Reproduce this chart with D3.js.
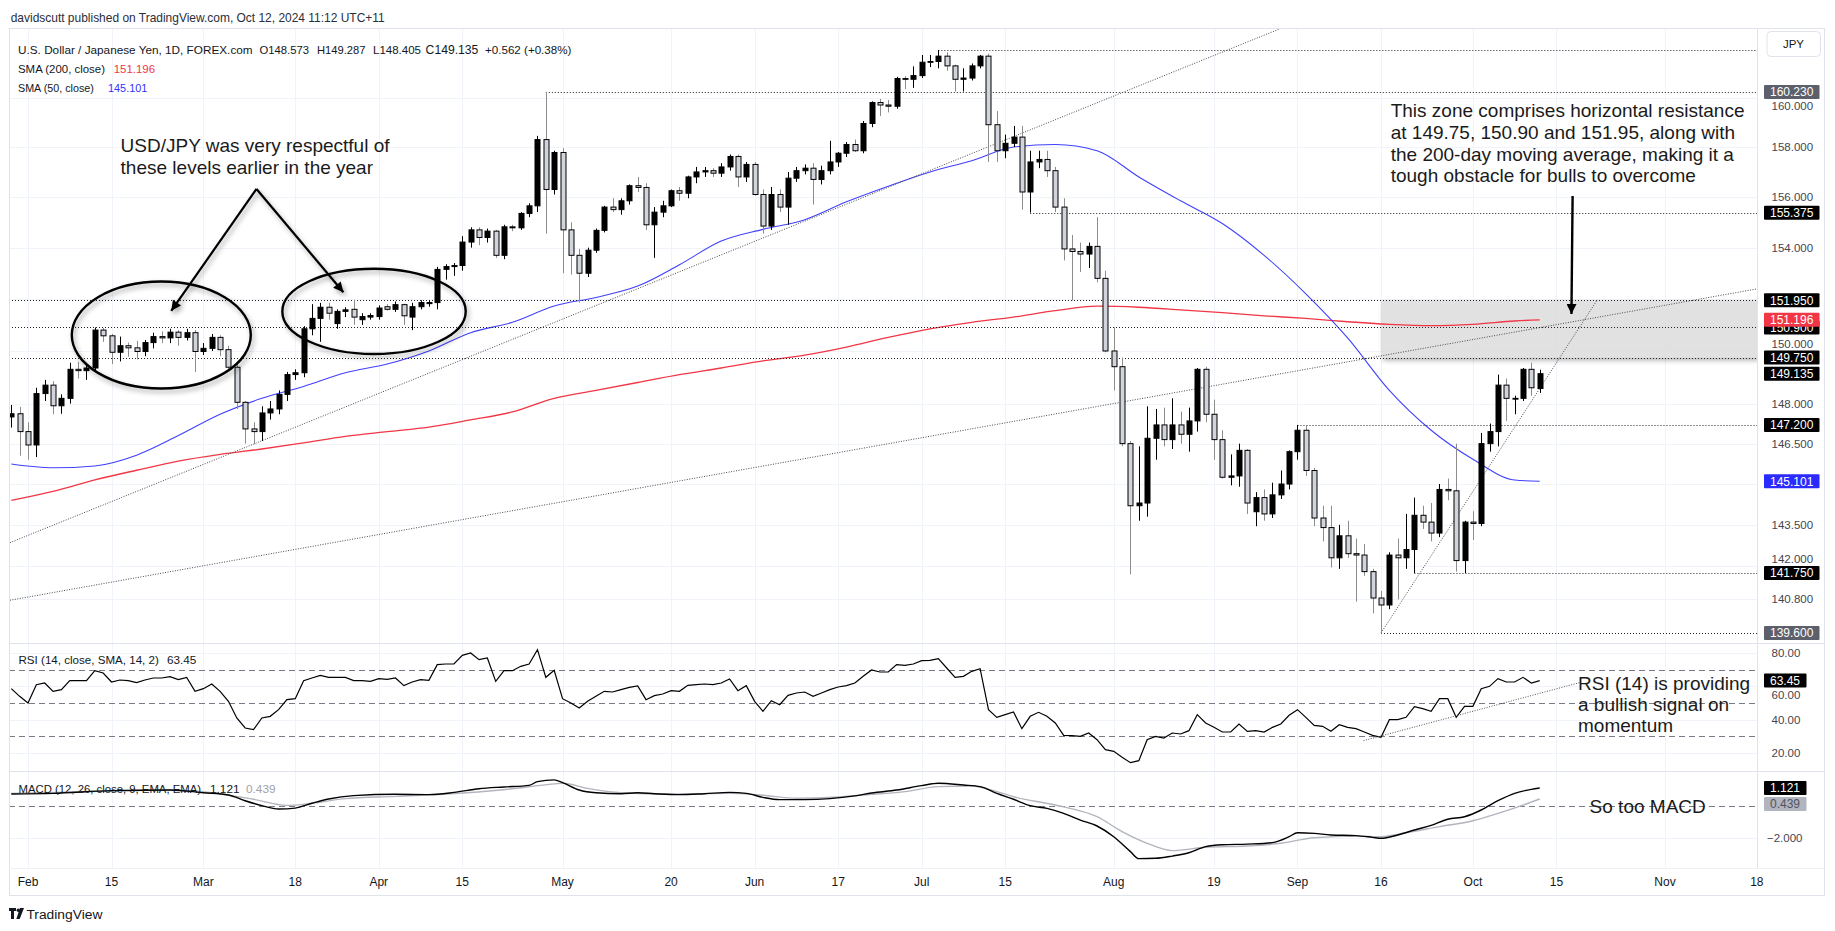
<!DOCTYPE html>
<html>
<head>
<meta charset="utf-8">
<script src="https://cdn.jsdelivr.net/npm/d3@7"></script>
<style>
  body { margin: 0; background: #fff; }
  svg { display: block; }
  text { font-family: "Liberation Sans", Arial, sans-serif; }
</style>
</head>
<body>
<svg id="chart" width="1835" height="931"></svg>
<script>
// ---- data ----
// daily candles [open, high, low, close], Jan 30 .. Oct 11 2024 (weekdays)
var ohlc = [
  [147.50,147.95,147.10,147.62],[147.62,147.88,146.05,146.95],
  // Feb
  [146.95,147.30,145.90,146.45],[146.45,148.60,146.00,148.38],[148.38,148.90,148.10,148.70],[148.70,148.85,147.60,147.92],
  [147.92,148.35,147.62,148.20],[148.20,149.55,148.00,149.30],[149.30,149.58,148.95,149.25],[149.25,149.55,148.90,149.35],
  [149.35,150.90,149.20,150.80],[150.80,150.88,150.35,150.58],[150.58,150.65,149.50,149.95],[149.95,150.55,149.60,150.20],
  [150.20,150.32,149.78,150.12],[150.12,150.38,149.68,149.98],[149.98,150.42,149.80,150.32],[150.32,150.70,150.10,150.55],
  [150.55,150.75,150.30,150.50],[150.50,150.85,150.30,150.72],[150.72,150.80,150.20,150.52],[150.52,150.85,150.40,150.70],
  [150.70,150.80,149.20,149.98],
  // Mar
  [149.98,150.30,149.85,150.10],[150.10,150.65,150.00,150.52],[150.52,150.60,149.80,150.05],[150.05,150.20,149.25,149.38],
  [149.38,149.50,147.80,148.05],[148.05,148.10,146.50,147.05],[147.05,147.30,146.48,146.95],[146.95,147.90,146.60,147.65],
  [147.65,148.10,147.40,147.80],[147.80,148.50,147.60,148.35],[148.35,149.20,148.10,149.10],[149.10,149.30,148.90,149.17],
  [149.17,150.95,149.00,150.85],[150.85,151.80,150.60,151.25],[151.25,151.85,150.35,151.68],[151.68,151.85,151.20,151.45],
  [151.05,151.60,150.85,151.52],[151.52,151.68,151.30,151.58],[151.60,151.97,151.00,151.30],[151.20,151.45,151.00,151.32],
  [151.30,151.45,151.20,151.36],
  // Apr
  [151.32,151.75,151.20,151.65],[151.70,151.80,151.55,151.60],[151.60,151.90,151.50,151.78],[151.78,151.82,151.00,151.35],
  [151.30,151.85,150.80,151.70],[151.70,151.95,151.60,151.86],[151.82,151.95,151.70,151.86],[151.86,153.25,151.60,153.15],
  [153.15,153.35,152.75,153.26],[153.26,153.40,152.90,153.30],[153.30,154.45,153.10,154.22],[154.22,154.80,154.00,154.70],
  [154.70,154.80,154.10,154.40],[154.40,154.75,154.20,154.65],[154.65,154.70,153.60,153.70],[153.70,154.90,153.55,154.82],
  [154.82,154.90,154.65,154.78],[154.78,155.40,154.70,155.35],[155.35,155.75,155.20,155.65],[155.65,158.45,155.40,158.30],
  [158.30,160.23,154.55,156.30],[156.30,157.85,156.10,157.78],
  // May
  [157.78,157.95,153.00,154.70],[154.70,155.00,152.95,153.70],[153.70,153.95,151.86,153.00],[153.00,154.00,152.85,153.90],
  [153.90,154.75,153.80,154.68],[154.68,155.65,154.60,155.60],[155.60,155.95,155.40,155.50],[155.50,155.95,155.30,155.85],
  [155.85,156.50,155.70,156.45],[156.45,156.80,156.20,156.38],[156.38,156.55,154.70,154.90],[154.90,155.60,153.60,155.40],
  [155.40,155.85,155.20,155.65],[155.65,156.30,155.60,156.25],[156.25,156.40,155.85,156.15],[156.15,156.85,155.95,156.80],
  [156.80,157.20,156.55,157.00],[157.00,157.20,156.80,157.05],[157.05,157.15,156.80,156.95],[156.95,157.35,156.80,157.20],
  [157.20,157.70,157.05,157.62],[157.62,157.70,156.40,156.80],[156.80,157.40,156.60,157.30],
  // Jun
  [157.30,157.40,156.05,156.10],[156.10,156.30,154.55,154.85],[154.85,156.40,154.70,156.10],[156.10,156.30,155.40,155.60],
  [155.60,157.00,154.90,156.75],[156.75,157.20,156.60,157.05],[157.05,157.30,156.90,157.15],[157.15,157.35,155.70,156.70],
  [156.70,157.25,156.50,157.05],[157.05,158.25,156.90,157.40],[157.40,157.80,157.20,157.75],[157.75,158.20,157.60,158.10],
  [158.10,158.30,157.80,157.85],[157.85,159.05,157.75,158.95],[158.95,159.85,158.80,159.80],[159.80,159.95,159.25,159.70],
  [159.70,159.90,159.40,159.65],[159.65,160.85,159.55,160.78],[160.78,160.88,160.35,160.75],[160.75,161.28,160.40,160.90],
  // Jul
  [160.90,161.75,160.80,161.45],[161.45,161.75,161.25,161.48],[161.48,161.95,161.20,161.70],[161.70,161.85,161.10,161.30],
  [161.30,161.35,160.25,160.75],[160.75,161.20,160.25,160.80],[160.80,161.40,160.70,161.30],[161.30,161.75,161.20,161.70],
  [161.70,161.80,157.40,158.90],[158.90,159.45,157.40,157.85],[157.85,158.50,157.55,158.15],[158.15,158.85,158.00,158.40],
  [158.40,158.85,155.50,156.20],[156.20,157.85,155.38,157.40],[157.40,157.85,157.15,157.50],[157.50,157.85,156.80,157.05],
  [157.05,157.20,155.40,155.60],[155.60,155.95,153.50,153.95],[153.95,154.50,151.94,153.85],[153.85,154.20,153.05,153.75],
  [153.75,154.20,153.20,154.05],[154.05,155.20,152.65,152.80],[152.80,153.10,149.95,150.00],
  // Aug
  [150.00,150.90,148.50,149.40],[149.40,149.75,146.40,146.50],[146.50,146.60,141.70,144.20],[144.20,146.40,143.65,144.30],
  [144.30,147.90,143.80,146.70],[146.70,147.80,145.90,147.20],[147.20,147.85,146.40,146.65],[146.65,148.20,146.30,147.20],
  [147.20,147.70,146.50,146.85],[146.85,147.85,146.20,147.35],[147.35,149.35,146.95,149.30],[149.30,149.40,147.30,147.60],
  [147.60,148.15,145.90,146.65],[146.65,147.00,145.20,145.25],[145.25,146.10,144.95,145.30],[145.30,146.50,144.90,146.25],
  [146.25,146.30,143.90,144.30],[143.98,144.70,143.45,144.50],[144.50,144.80,143.65,143.90],[143.90,145.05,143.75,144.60],
  [144.60,145.50,144.45,145.00],[145.00,146.25,144.80,146.20],
  // Sep
  [146.20,147.20,145.90,147.00],[147.00,147.20,145.30,145.50],[145.50,145.60,143.45,143.75],[143.75,144.20,142.90,143.40],
  [143.40,144.20,141.95,142.30],[142.30,143.50,141.90,143.10],[143.10,143.65,142.30,142.45],[142.45,143.00,140.72,142.40],
  [142.40,142.80,141.65,141.80],[141.80,141.90,140.30,140.85],[140.85,141.10,139.58,140.60],[140.60,142.50,140.45,142.40],
  [142.40,143.00,140.80,142.30],[142.30,143.90,141.90,142.60],[142.60,144.50,141.75,143.85],[143.85,144.20,143.35,143.60],
  [143.60,144.30,142.90,143.20],[143.20,145.00,143.05,144.80],[144.80,145.20,144.40,144.75],[144.75,146.50,141.80,142.20],
  [142.20,143.65,141.75,143.60],
  // Oct
  [143.60,144.00,142.95,143.55],[143.55,146.90,143.45,146.50],[146.50,147.25,146.20,146.95],[146.95,149.10,146.40,148.70],
  [148.70,148.95,147.35,148.20],[148.20,148.30,147.60,148.20],[148.20,149.35,148.10,149.30],[149.30,149.55,148.30,148.60],
  [148.573,149.287,148.405,149.135]
];

// moving averages, one reading every 5 sessions from Jan 30 (plus the last session)
var smaIndex = [-2,3,8,13,18,23,28,33,38,43,48,53,58,63,68,73,78,83,88,93,98,103,108,113,118,123,128,133,138,143,148,153,158,163,168,173,178,181];
var sma50 = [145.74,145.60,145.67,146.07,146.80,147.60,148.20,148.65,149.17,149.50,150.00,150.70,151.10,151.73,152.06,152.50,153.33,154.26,154.72,155.10,155.81,156.43,157.00,157.45,158.00,158.10,157.85,156.80,155.85,154.95,153.70,152.20,150.50,148.50,147.00,145.92,145.15,145.101];
var sma200 = [144.40,144.73,145.15,145.51,145.85,146.10,146.30,146.53,146.77,146.95,147.12,147.39,147.69,148.20,148.50,148.80,149.10,149.35,149.62,149.84,150.15,150.52,150.85,151.10,151.30,151.55,151.72,151.68,151.58,151.47,151.35,151.25,151.12,151.02,150.97,151.02,151.15,151.196];

// RSI (14), one value per session, Jan 30 .. Oct 11
var rsi = [58.6,54,50,61,62,57,58,63.4,63.4,63.4,69.4,68,62.6,63.8,63.4,62.2,63.8,65,65,65.8,
  64,65.4,57,58.6,61.4,57,51,41,35,34,41,42,46,52,52.6,63.4,65,66.6,65.4,65.4,
  65.4,63.4,63.4,63,64.6,64.2,65,60.4,62.6,64,63.6,73,73.4,73.4,78.6,80,76,77,63,69.4,
  69.4,72,73.4,82,65.4,69.6,52.6,50,47,51,54,57,56.6,58,59.4,60.2,52,54.4,55.4,57.4,
  57,60.6,61,61.4,61,62,64.4,57.4,60.4,51,45,51.4,49,54.6,56,56.6,54,56,58,59.6,
  60.4,62,66,69.8,68.6,68.6,73,72.6,73.4,75.4,75.6,76.6,71,65.4,66,69,70.6,46,41.4,43,
  44.6,34.6,42,44.4,42,38,30.6,30.4,30,32,28,22,21,17.4,14.2,15.4,28,30,29,32,
  31.4,33.4,43,38,35.4,32.6,32.6,37.4,33,33.4,32.6,35.4,37.4,42.6,46,41.4,36.6,36,33,37,
  35.4,34.6,32.6,30.6,29.4,40,40,41.4,47.8,46.6,45,52.6,52.6,41.4,48,48,58.6,60,64.6,62.6,
  62.6,65.4,62,63.45];

// MACD (12, 26, 9): [session index from Feb 1, value]
var macd = [[-2,0.75],[3,0.79],[10,0.96],[17,1.0],[21,0.83],[24,0.69],[26,0.33],[28,0.02],[30,-0.19],[32,-0.13],
  [34,0.17],[36,0.44],[39,0.65],[44,0.73],[48,0.71],[51,0.85],[54,1.08],[57,1.19],[60,1.29],[61,1.52],[63,1.63],
  [64,1.46],[66,1.0],[68,0.83],[71,0.77],[73,0.83],[75,0.77],[78,0.71],[81,0.77],[84,0.85],[86,0.79],[88,0.54],
  [90,0.4],[93,0.4],[96,0.46],[99,0.63],[101,0.81],[104,1.0],[107,1.27],[109,1.42],[112,1.31],[114,1.21],[116,0.79],
  [118,0.42],[120,0.02],[122,-0.15],[124,-0.46],[126,-0.88],[128,-1.25],[130,-1.92],[132,-2.85],[133,-3.29],
  [135,-3.27],[137,-3.13],[139,-2.92],[141,-2.54],[143,-2.42],[146,-2.38],[149,-2.29],[151,-1.92],[152,-1.67],
  [154,-1.71],[156,-1.81],[159,-1.85],[161,-1.96],[162,-2.02],[164,-1.81],[166,-1.5],[168,-1.21],[170,-0.83],
  [172,-0.67],[174,-0.25],[176,0.33],[178,0.79],[180,1.04],[181,1.121]];
var signal = [[-2,0.79],[7,0.9],[17,1.0],[22,0.83],[27,0.42],[31,0.04],[34,0.17],[38,0.46],[44,0.6],[50,0.75],
  [57,1.02],[63,1.38],[64,1.42],[67,1.1],[71,0.83],[77,0.75],[84,0.79],[88,0.67],[92,0.48],[97,0.56],[101,0.73],
  [105,0.9],[109,1.21],[113,1.25],[116,0.9],[118,0.58],[123,0.06],[128,-0.67],[131,-1.6],[134,-2.33],[137,-2.79],
  [141,-2.58],[146,-2.5],[150,-2.33],[154,-1.98],[159,-1.88],[162,-1.92],[165,-1.67],[169,-1.29],[173,-0.92],
  [176,-0.46],[179,0.06],[181,0.439]];

// axis labels
var xTicks = [['2024-02-01','Feb'],['2024-02-15','15'],['2024-03-01','Mar'],['2024-03-18','18'],['2024-04-01','Apr'],
  ['2024-04-15','15'],['2024-05-01','May'],['2024-05-20','20'],['2024-06-03','Jun'],['2024-06-17','17'],
  ['2024-07-01','Jul'],['2024-07-15','15'],['2024-08-01','Aug'],['2024-08-19','19'],['2024-09-02','Sep'],
  ['2024-09-16','16'],['2024-10-01','Oct'],['2024-10-15','15'],['2024-11-01','Nov'],['2024-11-18','18']];
var priceTicks = [160, 158, 156, 154, 152, 150, 148, 146.5, 145, 143.5, 142, 140.8];
var rsiTicks = [80, 60, 40, 20];
var macdTicks = [-2];

// horizontal levels drawn on the chart (price, first session)
var levels = [[161.95,'2024-07-03'],[160.23,'2024-04-29'],[155.375,'2024-07-18'],[151.95,null],[150.90,null],
  [149.75,null],[147.20,'2024-09-02'],[141.75,'2024-09-20'],[139.60,'2024-09-16']];
// dotted trend lines [[session, price], [session, price]]
var trends = [[[-2.16,142.85],[157.5,163.9]], [[-2.16,140.77],[207,152.39]], [[162,139.6],[187.9,151.97]]];
var rsiTrend = [[159.9,27.4],[185.75,62.2]];

// price scale tags
var priceTags = [[160.23,'#5d606b'],[155.375,'#000'],[151.95,'#000'],[150.90,'#000'],[151.196,'#f23645'],
  [149.75,'#000'],[149.135,'#000'],[147.20,'#000'],[145.101,'#2b2bff'],[141.75,'#000'],[139.60,'#5d606b']];

var noteLeft = ['USD/JPY was very respectful of', 'these levels earlier in the year'];
var noteZone = ['This zone comprises horizontal resistance', 'at 149.75, 150.90 and 151.95, along with',
  'the 200-day moving average, making it a', 'tough obstacle for bulls to overcome'];
var noteRsi = ['RSI (14) is providing', 'a bullish signal on', 'momentum'];

// ---- calendar: weekdays, Jan 30 to Nov 18 ----
var days = [];
for (var d = new Date(Date.UTC(2024, 0, 30)); d <= new Date(Date.UTC(2024, 10, 18)); d.setUTCDate(d.getUTCDate() + 1)) {
  var wd = d.getUTCDay();
  if (wd > 0 && wd < 6) days.push(d.toISOString().slice(0, 10));
}
function idx(s) { return days.indexOf(s) - 2; }   // Feb 1 = 0

// ---- layout ----
var L = 9, R = 1757, RB = 1824;
var mainTop = 28, mainBot = 643, rsiBot = 771, macdBot = 868, axisBot = 895;

var x = d3.scaleLinear().domain([0, 181]).range([28, 1539.7]);
var y = d3.scaleLog().domain([160.23, 139.6]).range([92, 633]);
var yR = d3.scaleLinear().domain([80, 20]).range([653, 753]);
var yM = d3.scaleLinear().domain([0, -2]).range([806, 838]);

var svg = d3.select('#chart');
var defs = svg.append('defs');
defs.append('clipPath').attr('id', 'cMain').append('rect')
  .attr('x', L).attr('y', mainTop).attr('width', R - L).attr('height', mainBot - mainTop);
defs.append('clipPath').attr('id', 'cRsi').append('rect')
  .attr('x', L).attr('y', mainBot).attr('width', R - L).attr('height', rsiBot - mainBot);
defs.append('clipPath').attr('id', 'cMacd').append('rect')
  .attr('x', L).attr('y', rsiBot).attr('width', R - L).attr('height', macdBot - rsiBot);
defs.append('filter').attr('id', 'sh').attr('x', '-20%').attr('y', '-20%').attr('width', '140%').attr('height', '140%')
  .append('feDropShadow').attr('dx', 2).attr('dy', 3).attr('stdDeviation', 2.5)
  .attr('flood-color', '#000').attr('flood-opacity', 0.35);
defs.append('marker').attr('id', 'ah').attr('viewBox', '0 0 10 10')
  .attr('refX', 10).attr('refY', 5).attr('markerWidth', 13).attr('markerHeight', 10)
  .attr('markerUnits', 'userSpaceOnUse').attr('orient', 'auto')
  .append('path').attr('d', 'M0,0L10,5L0,10z').attr('fill', '#000');

// text fitted to a measured width: shrink the font if the natural width is too wide
function fitText(xp, yp, s, len, size, col) {
  var t = svg.append('text').attr('x', xp).attr('y', yp).attr('font-size', size).attr('fill', col || '#131722').text(s);
  var w = t.node().getComputedTextLength();
  if (w > len) t.attr('font-size', (size * len / w).toFixed(2));
  t.attr('textLength', len).attr('lengthAdjust', 'spacingAndGlyphs');
  return t;
}

// header
fitText(10.7, 21.5, 'davidscutt published on TradingView.com, Oct 12, 2024 11:12 UTC+11', 374, 13, '#2a2e39');

// grid
var grid = svg.append('g').attr('stroke', '#f0f3fa').attr('stroke-width', 1);
xTicks.forEach(function(t) {
  var gx = Math.round(x(idx(t[0]))) + 0.5;
  grid.append('line').attr('x1', gx).attr('x2', gx).attr('y1', mainTop).attr('y2', macdBot);
});
priceTicks.forEach(function(p) {
  grid.append('line').attr('x1', L).attr('x2', R).attr('y1', Math.round(y(p)) + 0.5).attr('y2', Math.round(y(p)) + 0.5);
});
rsiTicks.forEach(function(v) {
  grid.append('line').attr('x1', L).attr('x2', R).attr('y1', Math.round(yR(v)) + 0.5).attr('y2', Math.round(yR(v)) + 0.5);
});
macdTicks.forEach(function(v) {
  grid.append('line').attr('x1', L).attr('x2', R).attr('y1', Math.round(yM(v)) + 0.5).attr('y2', Math.round(yM(v)) + 0.5);
});

// ---- main pane ----
var main = svg.append('g').attr('clip-path', 'url(#cMain)');

// resistance zone
main.append('rect')
  .attr('x', x(idx('2024-09-16'))).attr('width', R - x(idx('2024-09-16')))
  .attr('y', y(151.95)).attr('height', y(149.75) - y(151.95))
  .attr('fill', '#dcdcdc').attr('opacity', 0.85).attr('filter', 'url(#sh)');

// moving averages
var smaLine = function(vals) {
  return d3.line().curve(d3.curveMonotoneX)
    .x(function(v, k) { return x(smaIndex[k]); })
    .y(function(v) { return y(v); })(vals);
};
main.append('path').attr('d', smaLine(sma200)).attr('fill', 'none').attr('stroke', '#f23645').attr('stroke-width', 1.3);
main.append('path').attr('d', smaLine(sma50)).attr('fill', 'none').attr('stroke', '#4040ff').attr('stroke-width', 1.1);

// horizontal levels
levels.forEach(function(lv) {
  var y0 = Math.round(y(lv[0])) + 0.5;
  main.append('line')
    .attr('x1', lv[1] ? x(idx(lv[1])) : L).attr('x2', R)
    .attr('y1', y0).attr('y2', y0)
    .attr('stroke', '#222').attr('stroke-width', 1).attr('stroke-dasharray', '1,2');
});

// trend lines
trends.forEach(function(t) {
  main.append('line')
    .attr('x1', x(t[0][0])).attr('y1', y(t[0][1]))
    .attr('x2', x(t[1][0])).attr('y2', y(t[1][1]))
    .attr('stroke', '#4a4a4a').attr('stroke-width', 1).attr('stroke-dasharray', '1,1.5');
});

// candles
var bw = 6;
var cg = main.append('g');
ohlc.forEach(function(c, k) {
  var i = k - 2, cx = Math.round(x(i)) + 0.5;
  var up = c[3] >= c[0];
  cg.append('line').attr('x1', cx).attr('x2', cx).attr('y1', y(c[1])).attr('y2', y(c[2]))
    .attr('stroke', up ? '#000' : '#8c8c8c').attr('stroke-width', 1);
  var top = y(Math.max(c[0], c[3])), bot = y(Math.min(c[0], c[3]));
  cg.append('rect').attr('x', cx - bw / 2 + 0.5).attr('y', top)
    .attr('width', bw - 1).attr('height', Math.max(0.8, bot - top))
    .attr('fill', up ? '#000' : '#d1d4dc').attr('stroke', '#000').attr('stroke-width', 1);
});

// annotations: ellipses, arrows, notes
var ann = svg.append('g').attr('clip-path', 'url(#cMain)');
[[15.96, 150.61, 89.5, 53.5], [41.43, 151.52, 91.7, 42.6]].forEach(function(e) {
  ann.append('ellipse').attr('cx', x(e[0])).attr('cy', y(e[1])).attr('rx', e[2]).attr('ry', e[3])
    .attr('fill', 'none').attr('stroke', '#000').attr('stroke-width', 2.4).attr('filter', 'url(#sh)');
});
var apex = [27.36, 156.32];
[[17.15, 151.54], [37.76, 152.26]].forEach(function(tip) {
  ann.append('line').attr('x1', x(apex[0])).attr('y1', y(apex[1])).attr('x2', x(tip[0])).attr('y2', y(tip[1]))
    .attr('stroke', '#000').attr('stroke-width', 2.2).attr('marker-end', 'url(#ah)').attr('filter', 'url(#sh)');
});
ann.append('line').attr('x1', x(184.94)).attr('y1', y(156.04)).attr('x2', x(184.8)).attr('y2', y(151.42))
  .attr('stroke', '#000').attr('stroke-width', 2.4).attr('marker-end', 'url(#ah)');

noteLeft.forEach(function(s, k) {
  ann.append('text').attr('x', 120.6).attr('y', 152 + k * 21.6).attr('font-size', 19).attr('fill', '#1a1a1a').text(s);
});
noteZone.forEach(function(s, k) {
  ann.append('text').attr('x', 1390.7).attr('y', 117.3 + k * 21.7).attr('font-size', 19).attr('fill', '#1a1a1a').text(s);
});

// legend
function legend(xp, yp, s, len, col) { return fitText(xp, yp, s, len, 12.5, col); }
var last = ohlc[ohlc.length - 1];
legend(18, 53.5, 'U.S. Dollar / Japanese Yen, 1D, FOREX.com', 234.6);
legend(259.5, 53.5, 'O' + last[0].toFixed(3), 49.5);
legend(317, 53.5, 'H' + last[1].toFixed(3), 48.5);
legend(373, 53.5, 'L' + last[2].toFixed(3), 48);
legend(425.6, 53.5, 'C' + last[3].toFixed(3), 52.8);
legend(485, 53.5, '+0.562 (+0.38%)', 86.4);
legend(18, 72.5, 'SMA (200, close)', 87);
legend(113.7, 72.5, sma200[sma200.length - 1].toFixed(3), 41.3, '#f23645');
legend(18, 91.5, 'SMA (50, close)', 75.8);
legend(108, 91.5, sma50[sma50.length - 1].toFixed(3), 39.3, '#2f2fff');

// ---- RSI pane ----
var rp = svg.append('g').attr('clip-path', 'url(#cRsi)');
[70, 50, 30].forEach(function(v) {
  rp.append('line').attr('x1', L).attr('x2', R).attr('y1', Math.round(yR(v)) + 0.5).attr('y2', Math.round(yR(v)) + 0.5)
    .attr('stroke', '#787b86').attr('stroke-width', 1).attr('stroke-dasharray', '6,4');
});
rp.append('path')
  .attr('d', d3.line().x(function(v, k) { return x(k - 2); }).y(function(v) { return yR(v); })(rsi))
  .attr('fill', 'none').attr('stroke', '#000').attr('stroke-width', 1.2);
rp.append('line').attr('x1', x(rsiTrend[0][0])).attr('y1', yR(rsiTrend[0][1]))
  .attr('x2', x(rsiTrend[1][0])).attr('y2', yR(rsiTrend[1][1]))
  .attr('stroke', '#555').attr('stroke-width', 1).attr('stroke-dasharray', '1,1.5');
noteRsi.forEach(function(s, k) {
  rp.append('text').attr('x', 1578).attr('y', 690 + k * 21).attr('font-size', 19).attr('fill', '#1a1a1a').text(s);
});
legend(18.5, 664, 'RSI (14, close, SMA, 14, 2)', 140.3);
legend(167, 664, rsi[rsi.length - 1].toFixed(2), 29.4);

// ---- MACD pane ----
var mp = svg.append('g').attr('clip-path', 'url(#cMacd)');
mp.append('line').attr('x1', L).attr('x2', R).attr('y1', Math.round(yM(0)) + 0.5).attr('y2', Math.round(yM(0)) + 0.5)
  .attr('stroke', '#787b86').attr('stroke-width', 1).attr('stroke-dasharray', '6,4');
var ml = d3.line().curve(d3.curveMonotoneX).x(function(p) { return x(p[0]); }).y(function(p) { return yM(p[1]); });
mp.append('path').attr('d', ml(signal)).attr('fill', 'none').attr('stroke', '#b2b5be').attr('stroke-width', 1.4);
mp.append('path').attr('d', ml(macd)).attr('fill', 'none').attr('stroke', '#000').attr('stroke-width', 1.4);
mp.append('text').attr('x', 1589.6).attr('y', 813).attr('font-size', 19).attr('fill', '#1a1a1a').text('So too MACD');
legend(18.5, 793, 'MACD (12, 26, close, 9, EMA, EMA)', 182.5);
legend(210, 793, macd[macd.length - 1][1].toFixed(3), 29.5);
legend(246, 793, signal[signal.length - 1][1].toFixed(3), 29.5, '#a0a3ab');

// ---- frame and separators ----
var fr = svg.append('g').attr('stroke', '#e0e3eb').attr('stroke-width', 1).attr('fill', 'none');
fr.append('rect').attr('x', L + 0.5).attr('y', mainTop + 0.5).attr('width', RB - L).attr('height', axisBot - mainTop);
[mainBot, rsiBot].forEach(function(v) {
  fr.append('line').attr('x1', L).attr('x2', RB).attr('y1', v + 0.5).attr('y2', v + 0.5);
});
fr.append('line').attr('x1', L).attr('x2', RB).attr('y1', macdBot + 0.5).attr('y2', macdBot + 0.5).attr('stroke', '#eef0f5');
fr.append('line').attr('x1', R + 0.5).attr('x2', R + 0.5).attr('y1', mainTop).attr('y2', macdBot);

// ---- time axis ----
xTicks.forEach(function(t) {
  svg.append('text').attr('x', x(idx(t[0]))).attr('y', 886).attr('text-anchor', 'middle')
    .attr('font-size', 12).attr('fill', '#131722').text(t[1]);
});

// ---- value axes ----
// a tick label that a tag would cover is hidden when fully covered, otherwise nudged just clear of the tag
function placeLabel(yy, tagList) {
  for (var k = 0; k < tagList.length; k++) {
    var dy = yy - tagList[k];
    if (Math.abs(dy) < 3) return null;
    if (Math.abs(dy) < 14) return tagList[k] + (dy > 0 ? 14 : -14);
  }
  return yy;
}
var tagYs = priceTags.map(function(t) { return y(t[0]); });
var rsiTagY = yR(rsi[rsi.length - 1]);
var ax = svg.append('g').attr('font-size', 11.5).attr('fill', '#434651');
priceTicks.forEach(function(p) {
  var yy = placeLabel(y(p), tagYs);
  if (yy === null) return;
  ax.append('text').attr('x', 1771.5).attr('y', yy + 4).text(p.toFixed(3));
});
rsiTicks.forEach(function(v) {
  var yy = placeLabel(yR(v), [rsiTagY]);
  if (yy === null) return;
  ax.append('text').attr('x', 1771.5).attr('y', yy + 4).text(v.toFixed(2));
});
macdTicks.forEach(function(v) {
  ax.append('text').attr('x', 1767).attr('y', yM(v) + 4).text('\u2212' + Math.abs(v).toFixed(3));
});

function tag(yc, label, bg, fg, w) {
  svg.append('rect').attr('x', 1764).attr('y', yc - 7).attr('width', w || 55.5).attr('height', 14).attr('rx', 1).attr('fill', bg);
  svg.append('text').attr('x', 1770).attr('y', yc + 4.3).attr('font-size', 12).attr('fill', fg || '#fff').text(label);
}
priceTags.forEach(function(t) { tag(y(t[0]), t[0].toFixed(3), t[1]); });
tag(rsiTagY, rsi[rsi.length - 1].toFixed(2), '#000', '#fff', 42.5);
var mTagY = yM(macd[macd.length - 1][1]);
var sTagY = Math.max(yM(signal[signal.length - 1][1]), mTagY + 16);
tag(mTagY, macd[macd.length - 1][1].toFixed(3), '#000', '#fff', 42.5);
tag(sTagY, signal[signal.length - 1][1].toFixed(3), '#b2b5be', '#50535e', 42.5);

// currency box
svg.append('rect').attr('x', 1767).attr('y', 31.5).attr('width', 53.5).attr('height', 25).attr('rx', 4)
  .attr('fill', '#fff').attr('stroke', '#e0e3eb');
svg.append('text').attr('x', 1793.5).attr('y', 48).attr('text-anchor', 'middle').attr('font-size', 11.5)
  .attr('fill', '#131722').text('JPY');

// TradingView mark
var lg = svg.append('g').attr('fill', '#131722');
lg.append('path').attr('d', 'M9,908h7v3h-2v8h-3v-8h-2z');
lg.append('circle').attr('cx', 18.3).attr('cy', 910.3).attr('r', 1.7);
lg.append('path').attr('d', 'M20,908h4l-4.3,11h-3.4z');
fitText(26.4, 919, 'TradingView', 76, 12.5, '#131722');
</script>
</body>
</html>
